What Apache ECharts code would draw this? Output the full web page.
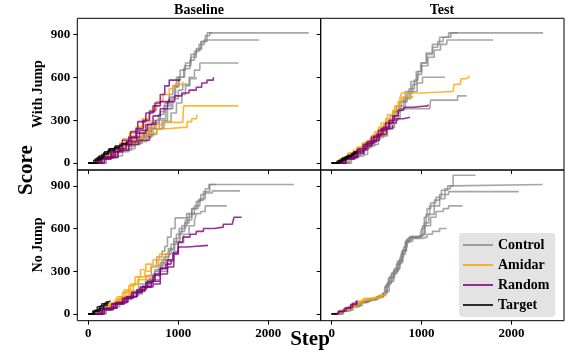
<!DOCTYPE html>
<html>
<head>
<meta charset="utf-8">
<script src="https://cdn.jsdelivr.net/npm/echarts@6/dist/echarts.min.js"></script>
<style>
  html, body { margin: 0; padding: 0; background: #fff; }
  #chart { width: 576px; height: 360px; }
</style>
</head>
<body>
<div id="chart"></div>
<script>
// runs are [step, score] pairs
const colTitles = ['Baseline', 'Test'];
const rowTitles = ['With Jump', 'No Jump'];
const groups = ['Control', 'Amidar', 'Random', 'Target'];
const xTicks = [0, 1000, 2000];
const yTicks = [0, 300, 600, 900];

// Baseline / With Jump
const bwControl = [
  [[0,0],[120,30],[220,60],[320,90],[420,120],[520,160],[600,200],[680,250],[740,300],[800,360],[850,420],[900,480],[940,540],[980,600],[1020,650],[1080,700],[1140,760],[1200,800],[1260,850],[1320,910],[2450,910]],
  [[0,0],[150,40],[280,80],[400,120],[500,170],[620,220],[700,280],[780,340],[840,400],[900,460],[960,530],[1000,600],[1060,660],[1130,720],[1180,780],[1230,830],[1290,860],[1900,860]],
  [[0,0],[180,40],[330,90],[480,140],[600,190],[720,240],[820,300],[880,380],[940,450],[1000,510],[1050,550],[1120,600],[1180,650],[1240,700],[1670,700]],
  [[0,0],[200,50],[380,100],[520,150],[650,200],[760,240],[840,290],[920,350],[980,420],[1040,480],[1080,540],[1130,590],[1200,600]],
  [[0,0],[160,40],[300,80],[450,130],[580,180],[700,240],[790,310],[860,380],[920,460],[970,540],[1010,600],[1070,680],[1140,740],[1200,790],[1250,850],[1300,890],[1350,910],[1380,910]]
];
const bwAmidar = [
  [[0,0],[100,30],[200,60],[300,100],[400,140],[500,180],[600,220],[680,250],[760,270],[850,285],[1050,285],[1060,400],[1670,400]],
  [[0,0],[150,40],[300,90],[420,130],[540,170],[650,210],[760,240],[880,250],[1060,250],[1100,290],[1150,310],[1205,340]],
  [[0,0],[120,40],[250,90],[350,140],[450,190],[530,250],[600,310],[680,370],[760,430],[830,480],[900,520],[960,550],[1050,570]],
  [[0,0],[100,30],[200,70],[300,120],[380,170],[460,210],[540,250],[620,290],[700,300]]
];
const bwRandom = [
  [[0,0],[120,30],[250,80],[350,130],[450,180],[530,240],[610,300],[680,360],[740,420],[800,480],[850,540],[900,580],[1020,590]],
  [[0,0],[150,40],[300,100],[420,150],[540,210],[640,270],[720,330],[800,380],[880,430],[960,470],[1040,490],[1120,510],[1200,530],[1260,560],[1320,580],[1390,600]],
  [[0,0],[140,40],[280,100],[380,160],[470,220],[550,290],[640,350],[720,400],[800,430],[900,450]],
  [[0,0],[130,30],[260,80],[380,130],[480,180],[570,230],[660,270],[750,300]],
  [[0,0],[180,40],[330,90],[450,130],[560,160],[680,190]]
];
const bwTarget = [
  [[0,0],[60,20],[120,50],[180,80],[240,100],[300,120],[370,135],[430,150]],
  [[0,0],[80,30],[150,60],[220,90],[290,110],[350,120]],
  [[0,0],[100,40],[170,70],[230,100],[280,110],[330,115]]
];

// Test / With Jump
const twControl = [
  [[0,0],[150,40],[280,90],[400,150],[500,210],[580,270],[650,330],[720,400],[800,460],[860,520],[920,580],[960,640],[1000,700],[1060,760],[1120,810],[1180,850],[1240,880],[1325,910],[2350,910]],
  [[0,0],[180,50],[320,110],[440,170],[540,230],[620,290],[700,360],[770,430],[840,490],[900,550],[950,620],[1000,680],[1070,740],[1140,790],[1210,830],[1280,860],[1795,860]],
  [[0,0],[200,50],[360,120],[480,180],[580,240],[660,300],[740,380],[820,450],[880,500],[950,560],[1010,600],[1260,600]],
  [[0,0],[220,60],[400,130],[520,190],[620,250],[700,310],[760,380],[1090,380],[1100,440],[1320,440],[1400,470],[1500,470]],
  [[0,0],[160,40],[300,100],[420,160],[520,220],[600,290],[680,360],[750,430],[820,500],[880,570],[940,640],[990,700],[1050,770],[1120,830],[1200,880],[1300,910],[1400,910]]
];
const twAmidar = [
  [[0,0],[100,30],[200,70],[300,110],[400,160],[480,220],[550,280],[620,340],[700,400],[760,460],[780,490],[980,490],[1000,500],[1350,500],[1360,550],[1430,560],[1440,590],[1500,600],[1525,610]],
  [[0,0],[120,40],[240,90],[340,140],[440,190],[520,250],[600,310],[680,370],[740,430],[780,460],[900,470]],
  [[0,0],[90,30],[180,70],[280,110],[380,150],[460,200],[540,240],[620,280],[700,320]],
  [[0,0],[140,40],[260,80],[360,130],[450,170],[540,210],[600,250]]
];
const twRandom = [
  [[0,0],[120,30],[250,80],[350,130],[440,180],[520,230],[600,280],[680,330],[740,370],[800,390],[900,400],[1070,410]],
  [[0,0],[150,40],[280,90],[380,140],[470,190],[550,240],[640,280],[720,310],[800,320],[870,320]],
  [[0,0],[130,30],[260,70],[360,120],[450,160],[530,200],[610,240],[680,270]],
  [[0,0],[160,40],[290,100],[400,150],[500,200],[570,250],[640,300],[700,330]]
];
const twTarget = [
  [[0,0],[60,15],[120,35],[180,55],[240,75],[280,84]],
  [[0,0],[80,20],[150,45],[220,65],[260,80]],
  [[0,0],[50,10],[110,30],[170,50],[230,70]]
];

// Baseline / No Jump
const bnControl = [
  [[0,0],[150,30],[280,70],[400,110],[500,150],[600,200],[680,250],[740,300],[800,360],[860,420],[920,490],[980,560],[1040,620],[1100,680],[1150,740],[1200,790],[1250,840],[1300,880],[1340,910],[2285,910]],
  [[0,0],[170,40],[300,80],[430,120],[540,170],[640,220],[720,280],[780,340],[840,400],[900,450],[960,510],[1020,580],[1070,640],[1120,700],[1180,760],[1240,810],[1300,850],[1380,865],[1685,865]],
  [[0,0],[140,30],[260,70],[380,110],[480,160],[560,210],[640,270],[700,330],[760,400],[820,440],[850,475],[880,540],[920,600],[965,675],[1093,705],[1250,720],[1300,760],[1540,760]],
  [[0,0],[200,50],[350,100],[480,140],[600,190],[700,240],[800,300],[880,370],[950,440],[1000,500],[1060,560],[1120,620],[1180,660],[1200,700]],
  [[0,0],[180,40],[320,90],[440,130],[560,180],[660,240],[740,310],[820,380],[890,460],[950,530],[1010,600],[1080,660],[1150,740],[1220,800],[1280,860],[1350,910],[1420,910]]
];
const bnAmidar = [
  [[0,0],[100,25],[200,60],[300,100],[380,150],[450,200],[520,260],[580,310],[640,350],[720,380],[790,420],[885,435]],
  [[0,0],[120,30],[240,70],[340,110],[420,160],[500,210],[560,260],[630,300],[700,340],[780,380],[850,400]],
  [[0,0],[110,30],[220,70],[320,120],[400,170],[470,210],[550,240],[640,260],[700,280]],
  [[0,0],[140,35],[260,80],[360,120],[450,150],[540,170],[600,190]]
];
const bnRandom = [
  [[0,0],[150,30],[280,70],[400,110],[500,150],[600,190],[700,230],[800,280],[880,330],[950,420],[1000,505],[1050,540],[1130,560],[1200,580],[1280,600],[1400,610],[1500,630],[1600,640],[1620,680],[1705,680]],
  [[0,0],[160,40],[300,80],[420,120],[540,170],[640,220],[720,270],[800,320],[880,380],[940,430],[1000,470],[1100,482],[1330,482]],
  [[0,0],[130,30],[260,70],[380,110],[480,150],[580,190],[660,230],[740,280],[800,320],[860,350],[920,380]],
  [[0,0],[180,40],[320,80],[440,120],[540,160],[630,190],[720,210],[800,230]]
];
const bnTarget = [
  [[0,0],[50,20],[100,50],[150,70],[200,85],[240,94]],
  [[0,0],[70,25],[130,55],[180,75],[220,85]],
  [[0,0],[60,15],[120,40],[170,60],[210,70]]
];

// Test / No Jump
const tnControl = [
  [[0,0],[100,20],[200,50],[300,80],[400,100],[500,120],[570,145],[600,200],[640,260],[700,320],[760,400],[800,470],[840,530],[900,540],[980,545],[1000,600],[1030,680],[1060,740],[1100,780],[1160,820],[1220,870],[1290,900],[1350,975],[1600,975]],
  [[0,0],[120,25],[220,55],[320,85],[420,105],[520,125],[580,150],[610,210],[660,280],[720,350],[770,420],[820,500],[860,540],[960,550],[1010,620],[1050,700],[1090,760],[1140,800],[1200,840],[1260,880],[1320,900],[1350,910],[2345,910]],
  [[0,0],[110,22],[210,52],[310,82],[410,102],[510,122],[560,140],[590,190],[630,250],[690,310],[750,380],[790,450],[830,520],[880,545],[990,555],[1030,640],[1080,700],[1140,760],[1200,810],[1260,840],[1300,860],[2080,860]],
  [[0,0],[130,28],[240,60],[340,90],[440,110],[540,130],[600,160],[640,230],[690,300],[740,360],[790,440],[830,510],[870,540],[1000,560],[1040,620],[1100,680],[1160,720],[1240,740],[1300,760],[1455,760]],
  [[0,0],[100,20],[190,48],[290,78],[390,98],[490,118],[575,145],[620,220],[670,290],[730,370],[780,440],[820,510],[900,530],[1000,540],[1060,560],[1120,580],[1200,600],[1270,606]]
];
const tnAmidar = [
  [[0,0],[80,20],[160,40],[240,60],[300,90],[360,110],[450,115],[520,130],[595,150]],
  [[0,0],[100,25],[200,50],[280,80],[340,100],[420,110],[500,120],[560,140]]
];
const tnRandom = [
  [[0,0],[70,15],[140,40],[210,65],[280,95]],
  [[0,0],[80,20],[160,45],[230,75],[270,90]]
];
const tnTarget = [
  [[0,0],[30,3],[60,6]]
];

const colors = {
  Control: 'rgba(128,128,128,0.7)',
  Amidar: 'rgba(255,165,0,0.8)',
  Random: 'rgba(128,0,128,0.8)',
  Target: 'rgba(0,0,0,0.8)'
};

// panel order: top-left, top-right, bottom-left, bottom-right
const panels = [
  {Control: bwControl, Amidar: bwAmidar, Random: bwRandom, Target: bwTarget},
  {Control: twControl, Amidar: twAmidar, Random: twRandom, Target: twTarget},
  {Control: bnControl, Amidar: bnAmidar, Random: bnRandom, Target: bnTarget},
  {Control: tnControl, Amidar: tnAmidar, Random: tnRandom, Target: tnTarget}
];

const font = 'Liberation Serif';
const colX = [77.3, 320.7];
const colW = [243.4, 243.3];
const rowY = [18.3, 170];
const rowH = [151.7, 150.7];

const grids = [], xAxes = [], yAxes = [], series = [];
panels.forEach((p, i) => {
  const r = Math.floor(i / 2), c = i % 2;
  grids.push({
    left: colX[c], top: rowY[r], width: colW[c], height: rowH[r],
    show: true, borderColor: '#000', borderWidth: 1, backgroundColor: 'transparent'
  });
  xAxes.push({
    type: 'value', gridIndex: i, min: -122, max: 2583, position: 'bottom',
    axisLine: {show: false, onZero: false},
    splitLine: {show: false},
    axisTick: {show: true, length: 4, customValues: xTicks, lineStyle: {color: '#000'}},
    axisLabel: {
      show: r === 1, customValues: xTicks, margin: 6,
      formatter: v => String(v),
      fontFamily: font, fontWeight: 'bold', fontSize: 13, color: '#000'
    }
  });
  yAxes.push({
    type: 'value', gridIndex: i, min: -48, max: 1012, position: 'left',
    axisLine: {show: false, onZero: false},
    splitLine: {show: false},
    axisTick: {show: true, length: 4, customValues: yTicks, lineStyle: {color: '#000'}},
    axisLabel: {
      show: c === 0, customValues: yTicks, margin: 7,
      formatter: v => String(v),
      fontFamily: font, fontWeight: 'bold', fontSize: 13, color: '#000'
    }
  });
  groups.forEach(g => {
    p[g].forEach(run => {
      series.push({
        type: 'line', name: g, xAxisIndex: i, yAxisIndex: i,
        data: run, step: 'end', symbol: 'none', silent: true,
        lineStyle: {width: 1.6, color: colors[g]},
        itemStyle: {color: colors[g]}
      });
    });
  });
});

const chart = echarts.init(document.getElementById('chart'));
chart.setOption({
  animation: false,
  grid: grids,
  xAxis: xAxes,
  yAxis: yAxes,
  series: series,
  legend: {
    data: groups.map(g => ({name: g, icon: 'rect'})),
    orient: 'vertical',
    left: 459, top: 233,
    padding: [5, 6, 5, 4],
    itemWidth: 30, itemHeight: 2, itemGap: 6,
    backgroundColor: 'rgba(220,220,220,0.8)',
    borderRadius: 4,
    textStyle: {fontFamily: font, fontWeight: 'bold', fontSize: 14, color: '#000', lineHeight: 14},
    itemStyle: {borderWidth: 0}
  },
  graphic: [
    {type: 'text', x: 199, y: 10, style: {text: colTitles[0], font: 'bold 14px "Liberation Serif"', fill: '#000', textAlign: 'center', textVerticalAlign: 'middle'}},
    {type: 'text', x: 442, y: 10, style: {text: colTitles[1], font: 'bold 14px "Liberation Serif"', fill: '#000', textAlign: 'center', textVerticalAlign: 'middle'}},
    {type: 'text', x: 38, y: 94, rotation: Math.PI / 2, style: {text: rowTitles[0], font: 'bold 14px "Liberation Serif"', fill: '#000', textAlign: 'center', textVerticalAlign: 'middle'}},
    {type: 'text', x: 38, y: 245, rotation: Math.PI / 2, style: {text: rowTitles[1], font: 'bold 14px "Liberation Serif"', fill: '#000', textAlign: 'center', textVerticalAlign: 'middle'}},
    {type: 'text', x: 27, y: 170, rotation: Math.PI / 2, style: {text: 'Score', font: 'bold 21px "Liberation Serif"', fill: '#000', textAlign: 'center', textVerticalAlign: 'middle'}},
    {type: 'text', x: 310, y: 340, style: {text: 'Step', font: 'bold 21px "Liberation Serif"', fill: '#000', textAlign: 'center', textVerticalAlign: 'middle'}}
  ]
});
</script>
</body>
</html>
